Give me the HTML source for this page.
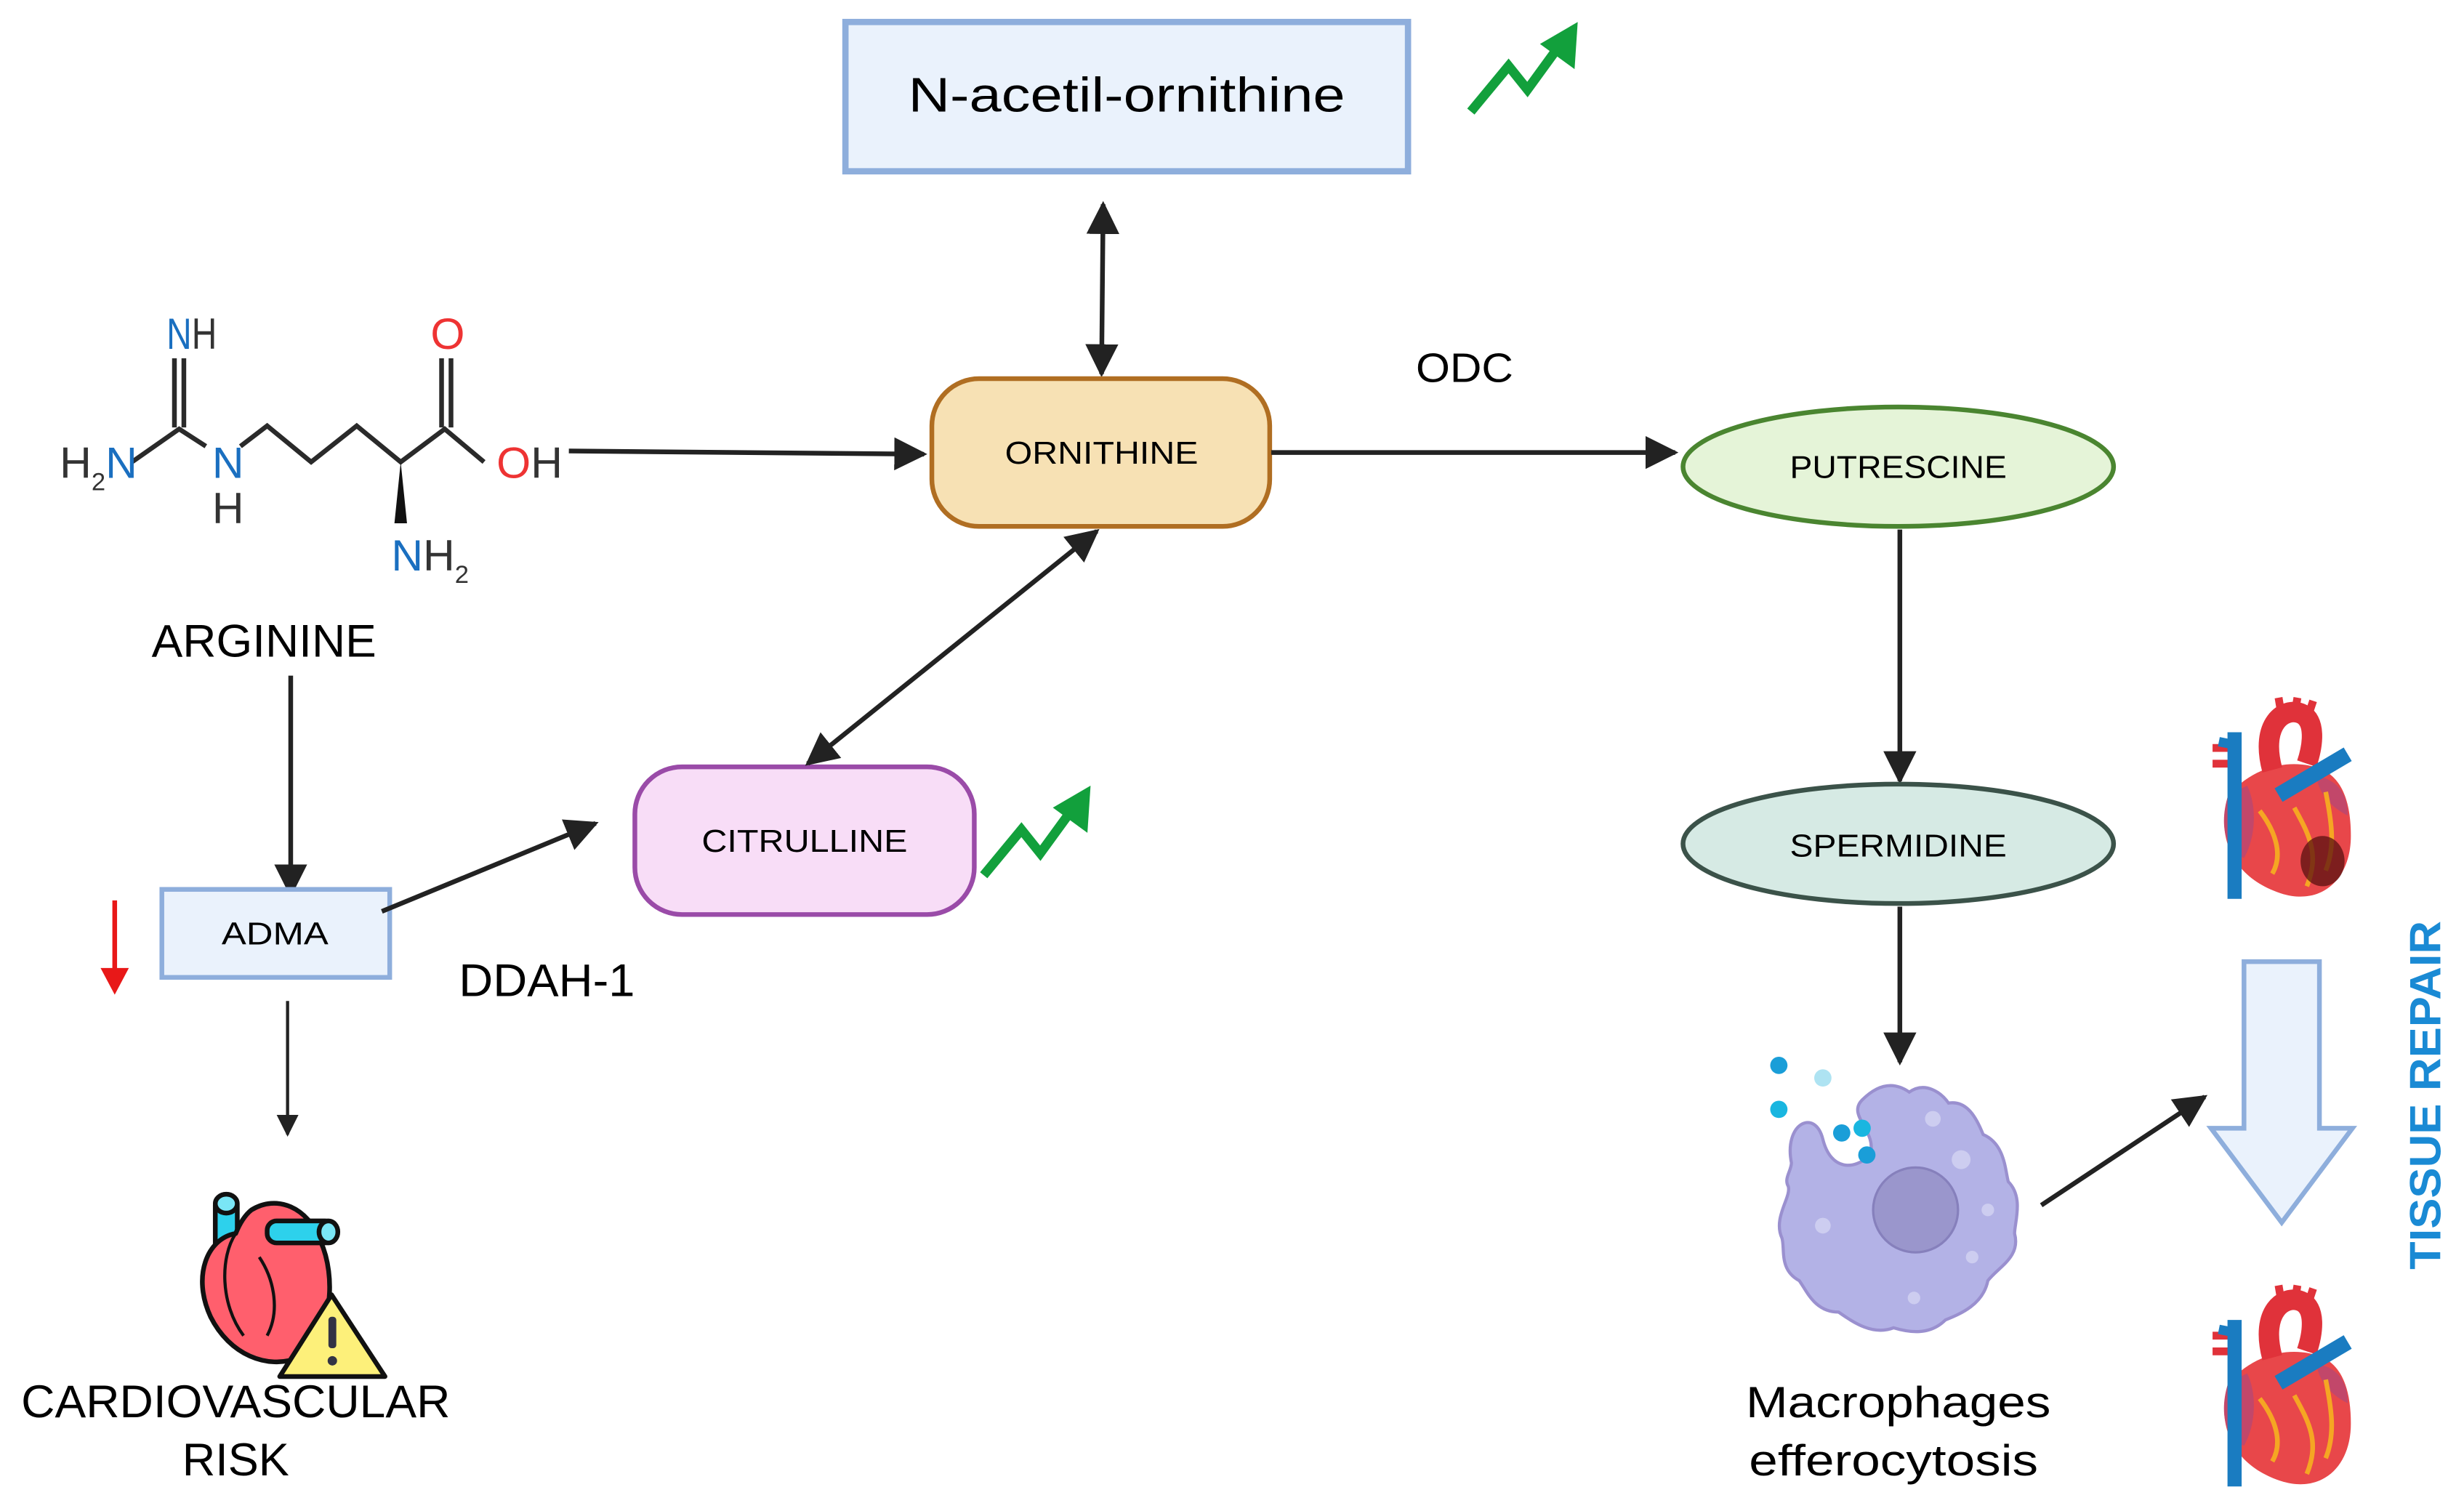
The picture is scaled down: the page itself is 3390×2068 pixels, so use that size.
<!DOCTYPE html>
<html><head><meta charset="utf-8"><style>
html,body{margin:0;padding:0;background:#fff;}
svg{display:block;}
text{font-family:"Liberation Sans",sans-serif;}
</style></head><body>
<svg width="3390" height="2068" viewBox="0 0 1568 956.5" preserveAspectRatio="none" xmlns="http://www.w3.org/2000/svg">
<defs>
<marker id="ahs" viewBox="0 0 10 10" refX="9" refY="5" markerWidth="7" markerHeight="7" orient="auto-start-reverse"><path d="M0,0 L10,5 L0,10 z" fill="#222"/></marker>
<g id="zig"><polyline points="0,57 24,28 36,43 60,10" fill="none" stroke="#12a03c" stroke-width="6"/><path d="M68,0 L66,30 L44,14 z" fill="#12a03c"/></g>
<g id="heart">
<path d="M44,12 L42,0 M52,12 L54,0 M60,14 L64,2" stroke="#e0323a" stroke-width="5"/>
<path d="M0,32 L16,32 M0,42 L16,42" stroke="#e0323a" stroke-width="5"/>
<path d="M10,62 C2,88 12,115 45,125 C70,132 88,115 88,88 C88,62 80,48 65,44 C50,40 28,42 10,62z" fill="#e8474a"/>
<path d="M10,62 C4,80 8,98 20,102 C28,88 28,68 22,56z" fill="#c2476a"/>
<path d="M66,50 C80,52 86,62 86,75 C76,70 68,62 66,50z" fill="#c2476a"/>
<path d="M38,46 C30,16 46,6 56,10 C66,14 64,30 60,42" stroke="#e0323a" stroke-width="13" fill="none"/>
<path d="M14,22 L14,128" stroke="#1a7cc1" stroke-width="9"/>
<path d="M14,30 L4,28" stroke="#1a7cc1" stroke-width="6"/>
<path d="M42,62 L86,36" stroke="#1a7cc1" stroke-width="10"/>
<path d="M30,72 C40,85 45,100 38,112 M52,70 C62,88 68,100 60,120 M72,60 C76,80 78,95 72,110" stroke="#f5a623" stroke-width="3" fill="none"/>
</g>
</defs>

<rect x="538" y="14" width="358" height="95" fill="#eaf2fc" stroke="#8eaedc" stroke-width="4"/>
<text x="717" y="71" font-size="31" text-anchor="middle" textLength="278" lengthAdjust="spacingAndGlyphs">N-acetil-ornithine</text>
<use href="#zig" transform="translate(936,14)"/>

<line x1="702" y1="130" x2="701" y2="238" stroke="#222" stroke-width="3" marker-start="url(#ahs)" marker-end="url(#ahs)"/>

<rect x="593" y="241" width="215" height="94" rx="30" fill="#f7e1b4" stroke="#b06e22" stroke-width="3"/>
<text x="701" y="295" font-size="20" text-anchor="middle" textLength="123" lengthAdjust="spacingAndGlyphs">ORNITHINE</text>
<text x="932" y="243" font-size="26" text-anchor="middle" textLength="62" lengthAdjust="spacingAndGlyphs">ODC</text>
<line x1="809" y1="288" x2="1066" y2="288" stroke="#222" stroke-width="3" marker-end="url(#ahs)"/>

<ellipse cx="1208" cy="297" rx="137" ry="38" fill="#e5f4d8" stroke="#4a8530" stroke-width="3"/>
<text x="1208" y="304" font-size="20" text-anchor="middle" textLength="138" lengthAdjust="spacingAndGlyphs">PUTRESCINE</text>
<line x1="1209" y1="337" x2="1209" y2="497" stroke="#222" stroke-width="3" marker-end="url(#ahs)"/>
<ellipse cx="1208" cy="537" rx="137" ry="38" fill="#d6eae4" stroke="#3b5249" stroke-width="3"/>
<text x="1208" y="545" font-size="20" text-anchor="middle" textLength="138" lengthAdjust="spacingAndGlyphs">SPERMIDINE</text>
<line x1="1209" y1="577" x2="1209" y2="676" stroke="#222" stroke-width="3" marker-end="url(#ahs)"/>

<g stroke="#2a2a2a" stroke-width="3" fill="none">
<polyline points="84,294 114,273 131,284"/>
<line x1="111" y1="228" x2="111" y2="272"/><line x1="117" y1="228" x2="117" y2="272"/>
<polyline points="153,284 170,271 198,294 227,271 255,294 283,273 308,294"/>
<line x1="281" y1="228" x2="281" y2="272"/><line x1="287" y1="228" x2="287" y2="272"/>
</g>
<path d="M255,294 L251,333 L259,333 z" fill="#111"/>
<g font-size="28">
<text x="106" y="222" fill="#1a6fc0" textLength="32" lengthAdjust="spacingAndGlyphs">N<tspan fill="#333">H</tspan></text>
<text x="38" y="304" fill="#333">H<tspan font-size="16" dy="8">2</tspan><tspan fill="#1a6fc0" dy="-8">N</tspan></text>
<text x="135" y="304" fill="#1a6fc0">N</text>
<text x="135" y="333" fill="#333">H</text>
<text x="274" y="222" fill="#ee3333">O</text>
<text x="316" y="304" fill="#ee3333">O<tspan fill="#333">H</tspan></text>
<text x="249" y="363" fill="#1a6fc0">N<tspan fill="#333">H</tspan><tspan fill="#333" font-size="16" dy="8">2</tspan></text>
</g>
<line x1="362" y1="287" x2="588" y2="289" stroke="#222" stroke-width="3" marker-end="url(#ahs)"/>
<text x="168" y="418" font-size="29" text-anchor="middle" textLength="143" lengthAdjust="spacingAndGlyphs">ARGININE</text>
<line x1="185" y1="430" x2="185" y2="569" stroke="#222" stroke-width="3" marker-end="url(#ahs)"/>

<rect x="103" y="566" width="145" height="56" fill="#eaf2fc" stroke="#8eaedc" stroke-width="3"/>
<text x="175" y="601" font-size="20" text-anchor="middle" textLength="68" lengthAdjust="spacingAndGlyphs">ADMA</text>
<line x1="73" y1="573" x2="73" y2="620" stroke="#e81818" stroke-width="3"/>
<path d="M64,616 L82,616 L73,633 z" fill="#e81818"/>
<text x="348" y="634" font-size="29" text-anchor="middle" textLength="112" lengthAdjust="spacingAndGlyphs">DDAH-1</text>
<line x1="243" y1="580" x2="379" y2="524" stroke="#222" stroke-width="3" marker-end="url(#ahs)"/>
<line x1="183" y1="637" x2="183" y2="722" stroke="#222" stroke-width="2" marker-end="url(#ahs)"/>

<rect x="404" y="488" width="216" height="94" rx="30" fill="#f8ddf7" stroke="#9a4ba8" stroke-width="3"/>
<text x="512" y="542" font-size="20" text-anchor="middle" textLength="131" lengthAdjust="spacingAndGlyphs">CITRULLINE</text>
<line x1="514" y1="486" x2="698" y2="338" stroke="#222" stroke-width="3" marker-start="url(#ahs)" marker-end="url(#ahs)"/>
<use href="#zig" transform="translate(626,500)"/>

<g stroke="#111" stroke-width="3" stroke-linejoin="round">
<rect x="137" y="762" width="14" height="35" rx="5" fill="#2dd1ec"/>
<ellipse cx="144" cy="766" rx="7" ry="6" fill="#7ae6f6"/>
<path d="M150,785 C132,788 122,812 134,838 C146,862 170,872 190,864 C212,850 214,812 204,790 C196,768 176,760 160,770 C155,774 152,780 150,785z" fill="#ff5f6d"/>
<path d="M150,785 C140,800 140,830 155,850 M165,800 C175,815 178,835 170,850" fill="none" stroke-width="2"/>
<rect x="170" y="777" width="43" height="14" rx="6" fill="#2dd1ec"/>
<ellipse cx="209" cy="784" rx="6" ry="7" fill="#7ae6f6"/>
<path d="M211,824 L245,876 L178,876 z" fill="#fdf07a"/>
</g>
<rect x="209" y="838" width="5" height="20" rx="2" fill="#334"/><circle cx="211.5" cy="866" r="3" fill="#334"/>
<text x="150" y="902" font-size="29" text-anchor="middle" textLength="273" lengthAdjust="spacingAndGlyphs">CARDIOVASCULAR</text>
<text x="150" y="939" font-size="29" text-anchor="middle" textLength="68" lengthAdjust="spacingAndGlyphs">RISK</text>

<path d="M1140,740 C1135,715 1155,705 1160,725 C1165,745 1180,745 1190,735 C1195,720 1175,710 1185,700 C1195,690 1205,688 1215,695 C1225,688 1235,695 1240,702 C1252,700 1258,712 1262,722 C1276,728 1276,745 1278,752 C1288,762 1282,778 1282,785 C1286,800 1272,806 1265,815 C1262,830 1248,836 1238,840 C1228,850 1215,848 1205,845 C1192,850 1180,842 1170,835 C1155,835 1150,822 1145,815 C1132,808 1136,795 1134,788 C1128,775 1140,762 1138,755 C1135,750 1140,745 1140,740z" fill="#b3b2e6" stroke="#9a90cf" stroke-width="2"/>
<circle cx="1219" cy="770" r="27" fill="#9a96cc" stroke="#8680bc" stroke-width="1.5"/>
<circle cx="1248" cy="738" r="6" fill="#cdcdf0"/><circle cx="1160" cy="780" r="5" fill="#cdcdf0"/><circle cx="1255" cy="800" r="4" fill="#cdcdf0"/><circle cx="1265" cy="770" r="4" fill="#cdcdf0"/><circle cx="1218" cy="826" r="4" fill="#cdcdf0"/><circle cx="1230" cy="712" r="5" fill="#cdcdf0"/>
<circle cx="1132" cy="678" r="5.5" fill="#1a9ed8"/><circle cx="1160" cy="686" r="5.5" fill="#aee3f2"/><circle cx="1132" cy="706" r="5.5" fill="#19b6e0"/>
<circle cx="1172" cy="721" r="5.5" fill="#1a9ed8"/><circle cx="1185" cy="718" r="5.5" fill="#19b6e0"/><circle cx="1188" cy="735" r="5.5" fill="#1a9ed8"/>
<text x="1208" y="902" font-size="28" text-anchor="middle" textLength="194" lengthAdjust="spacingAndGlyphs">Macrophages</text>
<text x="1205" y="939" font-size="28" text-anchor="middle" textLength="184" lengthAdjust="spacingAndGlyphs">efferocytosis</text>
<line x1="1299" y1="767" x2="1403" y2="698" stroke="#222" stroke-width="3" marker-end="url(#ahs)"/>

<path d="M1428,612 L1476,612 L1476,718 L1497,718 L1452,778 L1407,718 L1428,718 z" fill="#eaf2fc" stroke="#8eaedc" stroke-width="3"/>
<text transform="translate(1553,697) rotate(-90)" font-size="28" font-weight="bold" fill="#1a8ad4" text-anchor="middle" textLength="222" lengthAdjust="spacingAndGlyphs">TISSUE REPAIR</text>

<use href="#heart" transform="translate(1408,444)"/>
<ellipse cx="1478" cy="548" rx="14" ry="16" fill="#5a1010" opacity="0.75"/>
<use href="#heart" transform="translate(1408,818)"/>
</svg>
</body></html>
